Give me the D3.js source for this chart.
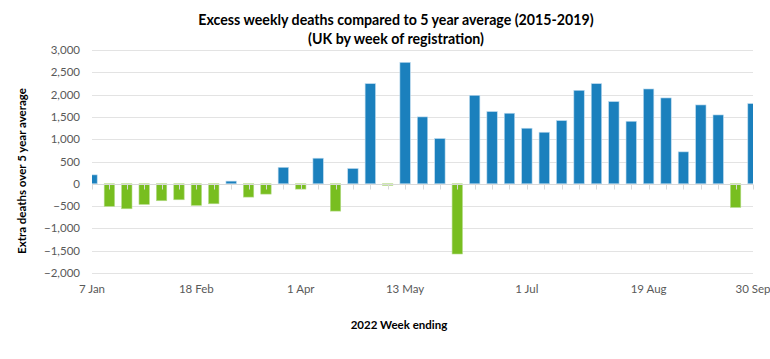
<!DOCTYPE html>
<html>
  <head>
    <meta charset="utf-8" />
    <title>excess-deaths</title>
    <style>
      html,
      body {
        padding: 0;
        margin: 0;
        background: #fff;
      }
      svg {
        display: block;
        font-family: Lato, 'Open Sans', sans-serif;
      }
    </style>
  </head>
  <body>
    <svg width="770" height="359"></svg>

    <script src="https://cdn.jsdelivr.net/npm/d3@7"></script>
    <script>
      // weeks ending (Fridays) 2022
      const weeks = [
        '2022-01-07', '2022-01-14', '2022-01-21', '2022-01-28',
        '2022-02-04', '2022-02-11', '2022-02-18', '2022-02-25',
        '2022-03-04', '2022-03-11', '2022-03-18', '2022-03-25',
        '2022-04-01', '2022-04-08', '2022-04-15', '2022-04-22',
        '2022-04-29', '2022-05-06', '2022-05-13', '2022-05-20',
        '2022-05-27', '2022-06-03', '2022-06-10', '2022-06-17',
        '2022-06-24', '2022-07-01', '2022-07-08', '2022-07-15',
        '2022-07-22', '2022-07-29', '2022-08-05', '2022-08-12',
        '2022-08-19', '2022-08-26', '2022-09-02', '2022-09-09',
        '2022-09-16', '2022-09-23', '2022-09-30',
      ];
      // extra deaths over the 5 year average
      const excess = [
        200, -505, -560, -462, -380, -358, -485, -448,
        60, -298, -231, 370, -119, 574, -612, 343,
        2245, -35, 2723, 1500, 1015, -1574, 1984, 1619,
        1582, 1246, 1156, 1417, 2096, 2245, 1843, 1402,
        2126, 1925, 716, 1768, 1544, -530, 1798,
      ];
      const xTickDates = [
        '2022-01-07', '2022-02-18', '2022-04-01', '2022-05-13',
        '2022-07-01', '2022-08-19', '2022-09-30',
      ];
      const yTicks = [3000, 2500, 2000, 1500, 1000, 500, 0, -500, -1000, -1500, -2000];
    </script>
    <script>
      const svg = d3.select('svg');
      const plotLeft = 92; // plot area
      const plotRight = 753;
      const plotTop = 50;
      const plotBottom = 273;
      const blue = '#1b80bd';
      const green = '#78be20';

      const parse = d3.utcParse('%Y-%m-%d');
      const data = weeks.map((w, i) => ({ date: parse(w), value: excess[i] }));

      const x = d3
        .scaleUtc()
        .domain([parse(weeks[0]), parse(weeks[weeks.length - 1])])
        .range([plotLeft, plotRight]);
      const y = d3.scaleLinear().domain([-2000, 3000]).range([plotBottom, plotTop]);
      const barW = 10.4;

      svg
        .append('defs')
        .append('clipPath')
        .attr('id', 'plot')
        .append('rect')
        .attr('x', plotLeft)
        .attr('y', 0)
        .attr('width', plotRight - plotLeft)
        .attr('height', 359);

      // gridlines
      svg
        .append('g')
        .selectAll('line')
        .data(yTicks)
        .join('line')
        .attr('x1', plotLeft)
        .attr('x2', plotRight)
        .attr('y1', (d) => Math.round(y(d)) + 0.5)
        .attr('y2', (d) => Math.round(y(d)) + 0.5)
        .attr('stroke', '#e3e3e3')
        .attr('stroke-width', 1);

      // y labels
      svg
        .append('g')
        .selectAll('text')
        .data(yTicks)
        .join('text')
        .attr('x', 80)
        .attr('y', (d) => y(d) + 4)
        .attr('text-anchor', 'end')
        .attr('font-size', 11.5)
        .attr('fill', '#595959')
        .text((d) => d3.format(',')(d));

      // bars
      svg
        .append('g')
        .attr('clip-path', 'url(#plot)')
        .selectAll('rect')
        .data(data)
        .join('rect')
        .attr('x', (d) => x(d.date) - barW / 2)
        .attr('width', barW)
        .attr('y', (d) => y(Math.max(0, d.value)))
        .attr('height', (d) => Math.abs(y(d.value) - y(0)))
        .attr('fill', (d) => (d.value >= 0 ? blue : green))
        .attr('stroke', (d) => (d.value >= 0 ? '#bcdaee' : '#b5dc8a'))
        .attr('stroke-width', 0.6);

      // zero axis with weekly tick marks
      const y0 = Math.round(y(0)) + 0.5;
      svg
        .append('line')
        .attr('x1', plotLeft)
        .attr('x2', plotRight)
        .attr('y1', y0)
        .attr('y2', y0)
        .attr('stroke', '#d9d9d9');
      svg
        .append('g')
        .selectAll('line')
        .data(data)
        .join('line')
        .attr('x1', (d) => Math.round(x(d.date)) + 0.5)
        .attr('x2', (d) => Math.round(x(d.date)) + 0.5)
        .attr('y1', y0)
        .attr('y2', y0 + 5)
        .attr('stroke', '#d9d9d9');

      // x labels
      svg
        .append('g')
        .selectAll('text')
        .data(xTickDates)
        .join('text')
        .attr('x', (d) => x(parse(d)))
        .attr('y', 293)
        .attr('text-anchor', 'middle')
        .attr('font-size', 11.5)
        .attr('fill', '#595959')
        .text((d) => d3.utcFormat('%-d %b')(parse(d)));

      // titles
      const title = svg
        .append('text')
        .attr('text-anchor', 'middle')
        .attr('font-size', 14.2)
        .attr('font-weight', 'bold')
        .attr('fill', '#000');
      title
        .append('tspan')
        .attr('x', 396)
        .attr('y', 25)
        .text('Excess weekly deaths compared to 5 year average (2015-2019)');
      title
        .append('tspan')
        .attr('x', 396)
        .attr('y', 44)
        .text('(UK by week of registration)');

      svg
        .append('text')
        .attr('x', 399)
        .attr('y', 329)
        .attr('text-anchor', 'middle')
        .attr('font-size', 11.5)
        .attr('font-weight', 'bold')
        .text('2022 Week ending');

      svg
        .append('text')
        .attr('transform', 'translate(26,171) rotate(-90)')
        .attr('text-anchor', 'middle')
        .attr('font-size', 11.5)
        .attr('font-weight', 'bold')
        .text('Extra deaths over 5 year average');
    </script>
  </body>
</html>
